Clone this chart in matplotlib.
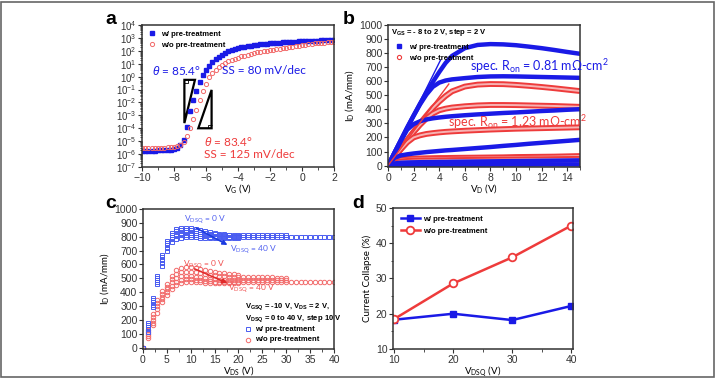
import numpy as np
import matplotlib
matplotlib.use('Agg')
import matplotlib.pyplot as plt
from matplotlib.patches import Rectangle, Polygon
from matplotlib.ticker import MultipleLocator, LogLocator, NullFormatter

plt.rcParams['font.family'] = ['Liberation Sans', 'DejaVu Sans']
plt.rcParams['mathtext.fontset'] = 'custom'
plt.rcParams['mathtext.rm'] = 'Liberation Sans'
plt.rcParams['mathtext.it'] = 'Liberation Sans:italic'

BLUE = '#1a1ae6'
RED = '#ee3b3b'
TXT = ['Lato', 'DejaVu Sans']

# ---- panel a : transfer curves, log10(I_D) ----
vg = np.round(np.arange(-10, 2.01, 0.2), 1)
a_w = [-5.75, -5.75, -5.74, -5.74, -5.73, -5.72, -5.71, -5.7, -5.68, -5.65, -5.6, -5.5,
       -5.3, -4.9, -3.9, -2.7, -1.8, -1.1, -0.45, 0.1, 0.5, 0.85, 1.1, 1.35, 1.55, 1.7,
       1.85, 1.97, 2.07, 2.15, 2.22, 2.28, 2.33, 2.37, 2.41, 2.45, 2.48, 2.51, 2.54, 2.56,
       2.58, 2.6, 2.62, 2.64, 2.66, 2.67, 2.69, 2.7, 2.72, 2.73, 2.74, 2.75, 2.76, 2.77,
       2.78, 2.79, 2.8, 2.81, 2.82, 2.83, 2.84]
a_wo = [-5.55, -5.55, -5.54, -5.54, -5.53, -5.52, -5.51, -5.5, -5.48, -5.45, -5.42, -5.38,
        -5.3, -5.1, -4.6, -3.95, -3.3, -2.6, -1.8, -1.15, -0.55, -0.05, 0.3, 0.55, 0.75, 0.92,
        1.06, 1.18, 1.3, 1.4, 1.48, 1.56, 1.63, 1.7, 1.76, 1.82, 1.87, 1.92, 1.97, 2.01,
        2.05, 2.09, 2.13, 2.17, 2.21, 2.25, 2.29, 2.33, 2.37, 2.41, 2.45, 2.48, 2.51, 2.54,
        2.57, 2.59, 2.61, 2.63, 2.65, 2.67, 2.69]

# ---- panel b : output curves (V_GS = 2, 0, -2, -4, -6, -8 V) ----
vd = [0, 0.5, 1, 1.5, 2, 2.5, 3, 3.5, 4, 4.5, 5, 6, 7, 8, 9, 10, 11, 12, 13, 14, 15]
b_w = [
    [0, 90, 180, 270, 355, 440, 520, 595, 665, 730, 780, 835, 858, 864, 862, 856, 846, 835, 822, 808, 795],
    [0, 90, 180, 270, 355, 435, 505, 560, 590, 605, 613, 622, 630, 634, 635, 634, 632, 630, 628, 626, 624],
    [0, 90, 175, 255, 295, 315, 328, 336, 342, 347, 351, 358, 364, 369, 374, 378, 383, 388, 392, 397, 401],
    [0, 55, 72, 80, 86, 91, 96, 100, 104, 108, 111, 118, 125, 132, 140, 147, 155, 162, 169, 176, 183],
    [0, 15, 20, 22, 23, 24, 25, 25, 26, 26, 27, 28, 29, 30, 31, 32, 33, 34, 35, 36, 37],
    [0, 3, 4, 4, 5, 5, 5, 5, 5, 6, 6, 6, 6, 7, 7, 7, 7, 8, 8, 8, 8],
]
b_wo = [
    [0, 60, 120, 180, 240, 300, 355, 410, 455, 495, 528, 562, 576, 580, 579, 574, 567, 559, 550, 540, 530],
    [0, 60, 120, 180, 238, 290, 335, 370, 393, 405, 413, 422, 428, 431, 431, 430, 428, 426, 424, 421, 418],
    [0, 58, 115, 165, 200, 215, 225, 231, 236, 240, 243, 248, 252, 256, 259, 262, 264, 266, 268, 270, 272],
    [0, 35, 45, 48, 50, 51, 52, 53, 54, 54, 55, 56, 57, 58, 59, 61, 62, 63, 64, 66, 68],
    [0, 22, 30, 33, 35, 36, 37, 37, 38, 38, 39, 40, 41, 42, 43, 44, 45, 45, 46, 47, 48],
    [0, 8, 11, 12, 13, 13, 14, 14, 14, 15, 15, 15, 16, 16, 17, 17, 18, 18, 19, 19, 20],
]

# ---- panel c : pulsed IV, V_DSQ = 0, 10, 20, 30, 40 V ----
vds = list(range(0, 21))
c_w = [
    [0, 180, 360, 520, 670, 770, 830, 855, 865, 865, 860, 852, 845, 838, 832, 827, 822, 818, 815, 813, 812],
    [0, 165, 345, 505, 650, 755, 815, 838, 848, 850, 846, 840, 834, 828, 823, 818, 814, 811, 809, 808, 807],
    [0, 150, 330, 490, 630, 740, 800, 820, 830, 832, 830, 825, 820, 815, 811, 807, 804, 802, 801, 800, 800],
    [0, 135, 310, 475, 610, 720, 785, 805, 812, 815, 813, 810, 806, 802, 799, 797, 796, 795, 795, 795, 795],
    [0, 115, 290, 460, 590, 700, 765, 785, 793, 797, 797, 795, 793, 792, 791, 790, 790, 790, 790, 790, 790],
]
c_wo = [
    [0, 130, 240, 340, 405, 460, 520, 560, 575, 580, 578, 572, 565, 558, 552, 546, 541, 536, 532, 528, 525],
    [0, 115, 220, 320, 385, 440, 495, 530, 545, 548, 546, 542, 537, 532, 527, 522, 518, 515, 512, 510, 509],
    [0, 100, 200, 300, 365, 420, 470, 500, 515, 518, 516, 512, 507, 502, 498, 494, 491, 489, 488, 487, 487],
    [0, 85, 180, 280, 350, 400, 445, 475, 490, 493, 492, 489, 485, 481, 478, 476, 474, 472, 471, 470, 470],
    [0, 70, 160, 250, 330, 380, 420, 450, 465, 470, 470, 470, 470, 469, 469, 469, 469, 469, 469, 469, 469],
]
tail_x1 = list(range(21, 31))
tail_x2 = list(range(21, 41))
c_w_tail_hi = [812, 812, 811, 811, 811, 810, 810, 810, 810, 810]
c_w_tail_lo = [795, 795, 795, 795, 795, 795, 795, 795, 795, 795,
               796, 796, 796, 796, 796, 796, 796, 796, 797, 797]
c_wo_tail_hi = [509, 508, 508, 507, 507, 506, 506, 505, 505, 505]
c_wo_tail_mid = [487, 487, 487, 487, 486, 486, 486, 486, 486, 486]
c_wo_tail_lo = [470, 470, 470, 470, 470, 470, 470, 470, 470, 470,
                470, 470, 470, 470, 470, 470, 470, 470, 470, 470]

# ---- panel d : current collapse ----
vdsq = [10, 20, 30, 40]
d_w = [18.3, 20.0, 18.2, 22.2]
d_wo = [18.5, 28.6, 36.0, 45.0]

fig = plt.figure(figsize=(7.16, 3.79), dpi=100)
fig.patches.append(Rectangle((0.002, 0.004), 0.995, 0.99, transform=fig.transFigure,
                             fill=False, ec='#666666', lw=1.2))

ax_a = fig.add_axes([0.1983, 0.5594, 0.2682, 0.3747])
ax_b = fig.add_axes([0.5419, 0.5594, 0.2682, 0.3747])
ax_c = fig.add_axes([0.1997, 0.0792, 0.2668, 0.3694])
ax_d = fig.add_axes([0.5489, 0.0792, 0.2514, 0.372])

for ax in (ax_a, ax_b, ax_c, ax_d):
    for s in ax.spines.values():
        s.set_color('#333333')
        s.set_linewidth(1.1)
    ax.tick_params(which='both', direction='out', colors='#333333', labelsize=7.5, pad=1)
    ax.tick_params(which='major', length=3)
    ax.tick_params(which='minor', length=1.8)

# panel a
ax_a.semilogy(vg, 10 ** np.array(a_w), 's', ms=2.3, color=BLUE, mec=BLUE, label='w/ pre-treatment')
ax_a.semilogy(vg, 10 ** np.array(a_wo), 'o', ms=3, mfc='none', mec='#f26a6a', mew=0.7,
              label='w/o pre-treatment')
ax_a.set_xlim(-10, 2)
ax_a.set_ylim(1e-7, 1e4)
ax_a.xaxis.set_major_locator(MultipleLocator(2))
ax_a.xaxis.set_minor_locator(MultipleLocator(1))
ax_a.set_yticks([10.0 ** k for k in range(-7, 5)])
ax_a.set_yticklabels(['$10^{%d}$' % k for k in range(-7, 5)])
ax_a.yaxis.set_minor_locator(LogLocator(base=10, subs=np.arange(2, 10), numticks=20))
ax_a.yaxis.set_minor_formatter(NullFormatter())
ax_a.tick_params(axis='y', labelsize=7)
ax_a.set_xlabel('V$_\\mathregular{G}$ (V)', fontsize=7, family=TXT, labelpad=0)
ax_a.legend(loc='upper left', frameon=False, prop={'size': 5.5, 'weight': 'bold'},
            handletextpad=0.6, borderaxespad=0.3, labelspacing=0.5, handlelength=1.2)
tri1 = [(-7.35, 10 ** -0.25), (-6.69, 10 ** -0.25), (-7.35, 10 ** -3.6)]
tri2 = [(-6.48, 10 ** -4.0), (-5.65, 10 ** -4.0), (-5.65, 10 ** -1.03)]
ax_a.add_patch(Polygon(tri1, closed=True, fill=False, ec='black', lw=1.6))
ax_a.add_patch(Polygon(tri2, closed=True, fill=False, ec='black', lw=1.6))
ax_a.add_patch(Polygon([(-7.35, 10 ** -0.5), (-7.15, 10 ** -0.5), (-7.15, 10 ** -0.25)],
                       closed=False, fill=False, ec='black', lw=0.6))
ax_a.add_patch(Polygon([(-5.85, 10 ** -4.0), (-5.85, 10 ** -3.75), (-5.65, 10 ** -3.75)],
                       closed=False, fill=False, ec='black', lw=0.6))
ax_a.text(-9.4, 10 ** 0.45, '$\\theta$ = 85.4°', color=BLUE, fontsize=8.5, family=TXT, va='center')
ax_a.text(-5.0, 10 ** 0.45, 'SS = 80 mV/dec', color=BLUE, fontsize=8.5, family=TXT, va='center')
ax_a.text(-6.1, 10 ** -5.0, '$\\theta$ = 83.4°', color=RED, fontsize=8.5, family=TXT, va='center')
ax_a.text(-6.1, 10 ** -6.05, 'SS = 125 mV/dec', color=RED, fontsize=8.5, family=TXT, va='center')

# panel b
for ys in b_wo:
    ax_b.plot(vd, ys, color=RED, lw=4.2, solid_capstyle='butt')
    ax_b.plot(vd, ys, color='#f7b3b3', lw=1.4)
for ys in b_w:
    ax_b.plot(vd, ys, color=BLUE, lw=3.2)
ax_b.plot([0, 4.1], [0, 750], color=BLUE, lw=1)
ax_b.plot([0, 4.75], [0, 580], color=RED, lw=1)
ax_b.plot([], [], 's', ms=2.5, color=BLUE, label='w/ pre-treatment')
ax_b.plot([], [], 'o', ms=3, mfc='none', mec=RED, mew=0.8, label='w/o pre-treatment')
ax_b.set_xlim(0, 15)
ax_b.set_ylim(-10, 1000)
ax_b.xaxis.set_major_locator(MultipleLocator(2))
ax_b.xaxis.set_minor_locator(MultipleLocator(1))
ax_b.yaxis.set_major_locator(MultipleLocator(100))
ax_b.set_xlabel('V$_\\mathregular{D}$ (V)', fontsize=7, family=TXT, labelpad=0)
ax_b.set_ylabel('I$_\\mathregular{D}$ (mA/mm)', fontsize=7, family=TXT, labelpad=2)
ax_b.text(0.25, 945, 'V$_\\mathregular{GS}$ = - 8 to 2 V, step = 2 V', fontsize=5.5,
          weight='bold', va='center')
ax_b.legend(loc='upper left', frameon=False, prop={'size': 5.5, 'weight': 'bold'},
            bbox_to_anchor=(0.0, 0.92), handletextpad=0.6, labelspacing=0.5, handlelength=1.2)
ax_b.text(6.4, 705, 'spec. R$_\\mathregular{on}$ = 0.81 mΩ-cm$^\\mathregular{2}$', color=BLUE,
          fontsize=9, family=TXT, va='center', clip_on=False)
ax_b.text(4.66, 313, 'spec. R$_\\mathregular{on}$ = 1.23 mΩ-cm$^\\mathregular{2}$', color=RED,
          fontsize=9, family=TXT, va='center', clip_on=False)

# panel c
for ys in c_wo:
    ax_c.plot(vds, ys, 'o', ms=3.2, mfc='none', mec='#f26a6a', mew=0.7)
ax_c.plot(tail_x1, c_wo_tail_hi, 'o', ms=3.2, mfc='none', mec='#f26a6a', mew=0.7)
ax_c.plot(tail_x1, c_wo_tail_mid, 'o', ms=3.2, mfc='none', mec='#f26a6a', mew=0.7)
ax_c.plot(tail_x2, c_wo_tail_lo, 'o', ms=3.2, mfc='none', mec='#f26a6a', mew=0.7)
for ys in c_w:
    ax_c.plot(vds, ys, 's', ms=2.8, mfc='none', mec='#4a5cf0', mew=0.7)
ax_c.plot(tail_x1, c_w_tail_hi, 's', ms=2.8, mfc='none', mec='#4a5cf0', mew=0.7)
ax_c.plot(tail_x2, c_w_tail_lo, 's', ms=2.8, mfc='none', mec='#4a5cf0', mew=0.7)
ax_c.set_xlim(0, 40)
ax_c.set_ylim(-10, 1000)
ax_c.xaxis.set_major_locator(MultipleLocator(5))
ax_c.xaxis.set_minor_locator(MultipleLocator(2.5))
ax_c.yaxis.set_major_locator(MultipleLocator(100))
ax_c.set_xlabel('V$_\\mathregular{DS}$ (V)', fontsize=7, family=TXT, labelpad=0)
ax_c.set_ylabel('I$_\\mathregular{D}$ (mA/mm)', fontsize=7, family=TXT, labelpad=2)
ax_c.annotate('', xy=(18.2, 731), xytext=(10.6, 873),
              arrowprops=dict(arrowstyle='-|>', color='#1a3ae0', lw=1.1, mutation_scale=7))
ax_c.annotate('', xy=(18.2, 457), xytext=(10.3, 576),
              arrowprops=dict(arrowstyle='-|>', color='#e02a2a', lw=1.1, mutation_scale=7))
ax_c.text(8.5, 925, 'V$_\\mathregular{DSQ}$ = 0 V', color='#5060f0', fontsize=6, family=TXT, va='center')
ax_c.text(18.2, 707, 'V$_\\mathregular{DSQ}$ = 40 V', color='#5060f0', fontsize=6, family=TXT, va='center')
ax_c.text(8.3, 600, 'V$_\\mathregular{DSQ}$ = 0 V', color='#f05050', fontsize=6, family=TXT, va='center')
ax_c.text(17.7, 421, 'V$_\\mathregular{DSQ}$ = 40 V', color='#f05050', fontsize=6, family=TXT, va='center')
ax_c.text(21.4, 295, 'V$_\\mathregular{GSQ}$ = -10 V, V$_\\mathregular{DS}$ = 2 V,', fontsize=5.5,
          weight='bold', va='center')
ax_c.text(21.4, 207, 'V$_\\mathregular{DSQ}$ = 0 to 40 V, step 10 V', fontsize=5.5,
          weight='bold', va='center')
ax_c.plot([21.9], [131], 's', ms=2.8, mfc='none', mec='#4a5cf0', mew=0.7)
ax_c.plot([21.9], [57], 'o', ms=3.2, mfc='none', mec='#f26a6a', mew=0.7)
ax_c.text(23.4, 131, 'w/ pre-treatment', fontsize=5.5, weight='bold', va='center')
ax_c.text(23.4, 57, 'w/o pre-treatment', fontsize=5.5, weight='bold', va='center')

# panel d
ax_d.plot(vdsq, d_w, '-s', color=BLUE, lw=1.8, ms=5, label='w/ pre-treatment')
ax_d.plot(vdsq, d_wo, '-o', color=RED, lw=1.8, ms=5.5, mfc='white', mew=1.3,
          label='w/o pre-treatment')
ax_d.set_xlim(9.8, 40.3)
ax_d.set_ylim(10, 50)
ax_d.set_xticks([10, 20, 30, 40])
ax_d.xaxis.set_minor_locator(MultipleLocator(5))
ax_d.yaxis.set_major_locator(MultipleLocator(10))
ax_d.yaxis.set_minor_locator(MultipleLocator(5))
ax_d.set_xlabel('V$_\\mathregular{DSQ}$ (V)', fontsize=7, family=TXT, labelpad=0)
ax_d.set_ylabel('Current Collapse (%)', fontsize=7, family=TXT, labelpad=3)
ax_d.legend(loc='upper left', frameon=False, prop={'size': 5.5, 'weight': 'bold'},
            handletextpad=0.4, borderaxespad=0.6, labelspacing=0.6, handlelength=2.5)

fig.text(105 / 716, 1 - 20 / 379, 'a', fontsize=14, weight='bold', va='center')
fig.text(343 / 716, 1 - 20 / 379, 'b', fontsize=14, weight='bold', va='center')
fig.text(105 / 716, 1 - 203 / 379, 'c', fontsize=14, weight='bold', va='center')
fig.text(352 / 716, 1 - 203 / 379, 'd', fontsize=14, weight='bold', va='center')

fig.savefig('out.png', dpi=100)
